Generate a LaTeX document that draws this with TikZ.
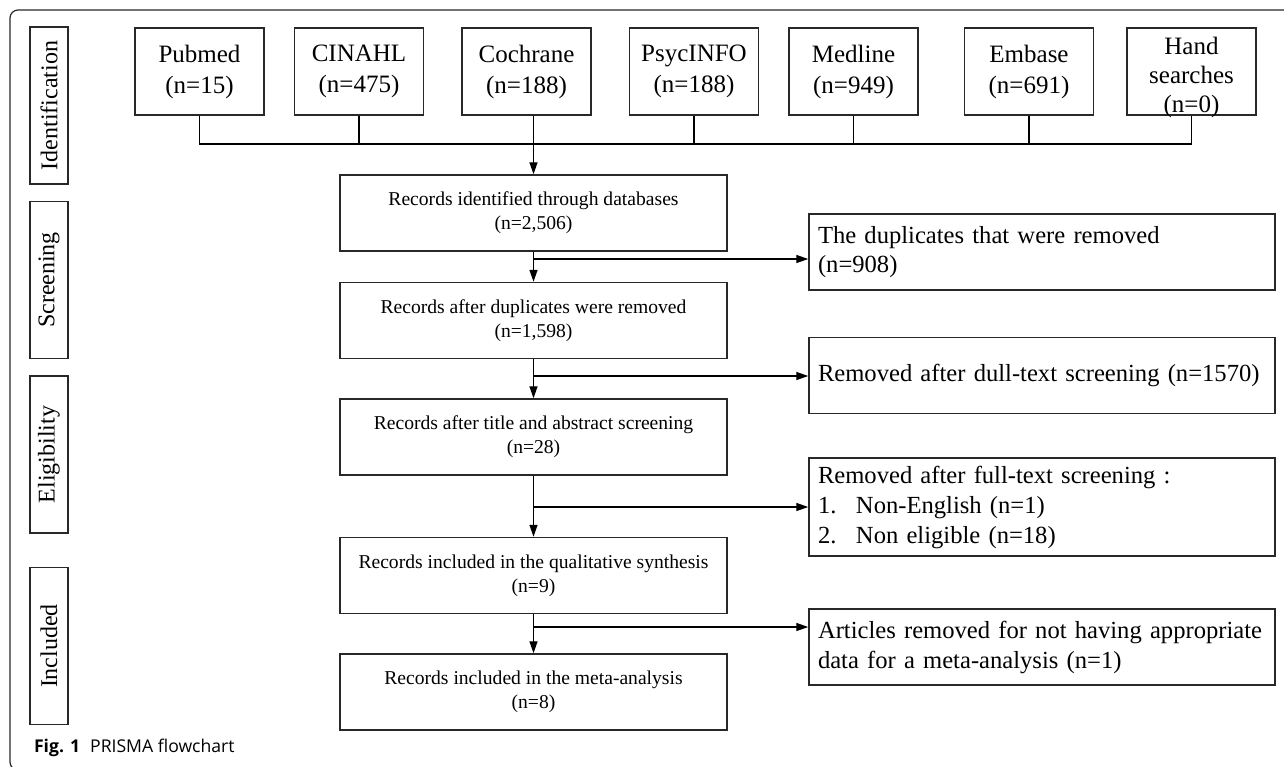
\documentclass[tikz,border=0pt]{standalone}
\usepackage{fontspec}
\setmainfont{Liberation Serif}
\newfontfamily\capfont{Open Sans}
\usepackage{tikz}
\usetikzlibrary{arrows.meta,positioning,calc}
\definecolor{borde}{RGB}{40,40,40}

\begin{document}
\begin{tikzpicture}[
    x=0.5pt,y=-0.5pt,
    db/.style={draw=borde,line width=0.75pt,align=center,minimum width=64.5pt,minimum height=43.5pt,inner sep=1pt,font=\fontsize{12.5}{15.5}\selectfont},
    rec/.style={draw=borde,line width=0.75pt,align=center,minimum width=193.5pt,minimum height=38pt,font=\fontsize{9.8}{12}\selectfont},
    side/.style={draw=borde,line width=0.75pt,align=left,text width=224pt,inner xsep=4.5pt,minimum height=38pt,font=\fontsize{12.3}{14.5}\selectfont},
    phase/.style={draw=borde,line width=0.6pt,rotate=90,minimum width=78.5pt,minimum height=19pt,inner sep=0pt,font=\fontsize{12}{14}\selectfont},
    line/.style={-{Triangle[length=6pt,width=4pt]},line width=0.7pt},
    bus/.style={line width=0.8pt}
]
    \useasboundingbox (0,0) rectangle (1284,766);
    \begin{scope}
        \clip (0,0) rectangle (1284,766);
        \draw[borde,line width=0.6pt,rounded corners=4pt] (10,10) rectangle (1320,770);
    \end{scope}

    % phases
    \node[phase] (ident) at (49,105.5) {Identification};
    \node[phase] (screen) at (49,280) {Screening};
    \node[phase] (elig) at (49,454.5) {Eligibility};
    \node[phase] (incl) at (49,646) {Included};

    % databases
    \node[db] (pubmed) at (199.5,71.5) {Pubmed\\(n=15)};
    \node[db,right=14.5pt of pubmed] (cinahl) {CINAHL\\(n=475)};
    \node[db,right=18.5pt of cinahl] (coch) {Cochrane\\(n=188)};
    \node[db,right=18.5pt of coch] (psyc) {PsycINFO\\(n=188)};
    \node[db,right=14.5pt of psyc] (medline) {Medline\\(n=949)};
    \node[db,right=22.5pt of medline] (embase) {Embase\\(n=691)};
    \node[db,right=16pt of embase] (hand) {};
    \node[align=center,inner sep=0pt,font=\fontsize{12.5}{14.5}\selectfont] (handtxt) at ([yshift=-3pt]hand.center) {Hand\\searches\\(n=0)};

    % main column
    \node[rec] (found) at (533.5,213) {Records identified through databases\\(n=2,506)};
    \node[rec,below=15pt of found] (nodup) {Records after duplicates were removed\\(n=1,598)};
    \node[rec,below=19.5pt of nodup] (title) {Records after title and abstract screening\\(n=28)};
    \node[rec,below=30.5pt of title] (qual) {Records included in the qualitative synthesis\\(n=9)};
    \node[rec,below=19.5pt of qual] (meta) {Records included in the meta-analysis\\(n=8)};

    % removed
    \node[side] (dups) at (1042,252) {The duplicates that were removed\\(n=908)};
    \node[side] (dull) at (1042,375.5) {\mbox{Removed after dull-text screening (n=1570)}};
    \node[side,minimum height=49pt,font=\fontsize{12.3}{15}\selectfont] (full) at (1042,507) {Removed after full-text screening :\\\makebox[19pt][l]{1.}Non-English (n=1)\\\makebox[19pt][l]{2.}Non eligible (n=18)};
    \node[side,font=\fontsize{12.3}{15}\selectfont] (arts) at (1042,647) {\mbox{Articles removed for not having appropriate}\\data for a meta-analysis (n=1)};

    \node[anchor=base west,font=\capfont\fontsize{8.8}{10}\selectfont] (cap) at (27,752) {\textbf{Fig. 1}\hspace{5pt}PRISMA flowchart};

    \coordinate (busy) at (0,144);
    \coordinate (j1) at (533.5,259);
    \coordinate (j2) at (533.5,376);
    \coordinate (j3) at (533.5,507);
    \coordinate (j4) at (533.5,627);

    \draw[bus] (pubmed.south) -- (pubmed.south |- busy) -- (hand.south |- busy) -- (hand.south);
    \draw[bus] (cinahl.south) -- (cinahl.south |- busy);
    \draw[bus] (psyc.south) -- (psyc.south |- busy);
    \draw[bus] (medline.south) -- (medline.south |- busy);
    \draw[bus] (embase.south) -- (embase.south |- busy);
    \draw[bus] (found.north |- coch.south) -- (found.north |- busy);
    \draw[line] (found.north |- busy) -- (found);

    \draw[line] (found) -- (nodup);
    \draw[line] (nodup) -- (title);
    \draw[line] (title) -- (qual);
    \draw[line] (qual) -- (meta);
    \draw[line] (j1) -- (j1 -| dups.west);
    \draw[line] (j2) -- (j2 -| dull.west);
    \draw[line] (j3) -- (j3 -| full.west);
    \draw[line] (j4) -- (j4 -| arts.west);
\end{tikzpicture}
\end{document}
